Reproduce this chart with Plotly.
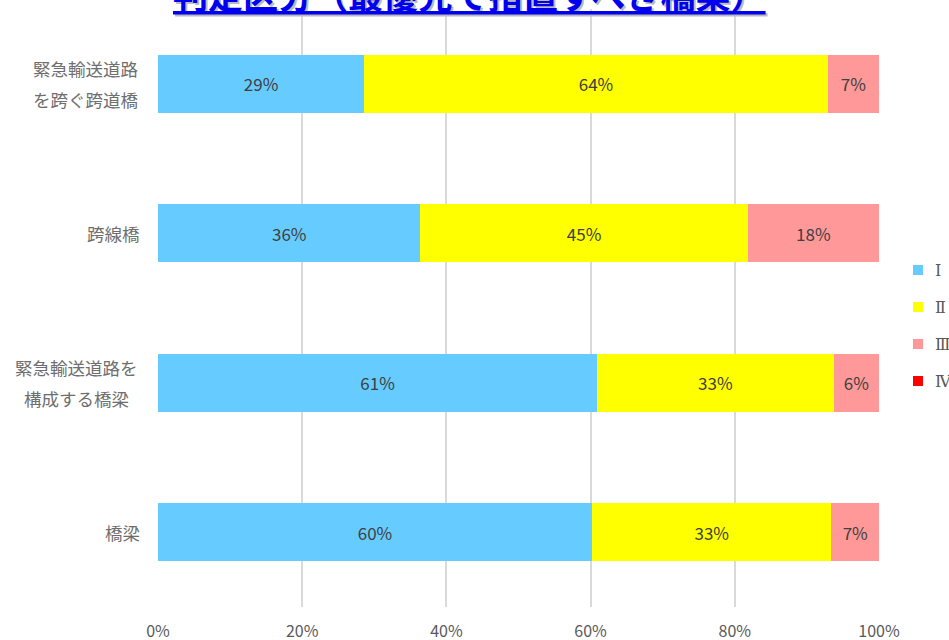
import plotly.graph_objects as go

categories = ["緊急輸送道路<br>を跨ぐ跨道橋", "跨線橋", "緊急輸送道路を<br>構成する橋梁", "橋梁"]
series_names = ["Ⅰ", "Ⅱ", "Ⅲ", "Ⅳ"]
vals_I = [28.6, 36.4, 60.9, 60.2]
vals_II = [64.3, 45.4, 32.8, 33.2]
vals_III = [7.1, 18.2, 6.3, 6.6]
vals_IV = [0, 0, 0, 0]
colors = ["#66ccff", "#ffff00", "#ff9999", "#ff0000"]
x_ticks = [0, 20, 40, 60, 80, 100]
x_tick_labels = ["0%", "20%", "40%", "60%", "80%", "100%"]
title_text = "判定区分（最優先で措置すべき橋梁）"

W, H = 949, 640
ML, MR, MT, MB = 158, 70, 9, 33
PW, PH = W - ML - MR, H - MT - MB

fig = go.Figure()
for i, (name, vals) in enumerate(zip(series_names, [vals_I, vals_II, vals_III, vals_IV])):
    fig.add_trace(go.Bar(
        y=categories, x=vals, name=name, orientation="h",
        marker=dict(color=colors[i], line=dict(width=0)),
        text=[f"{v:.0f}%" if v > 0 else "" for v in vals],
        textposition="inside", insidetextanchor="middle",
        textfont=dict(size=17, color="#404040", family="Noto Sans CJK JP"),
        hoverinfo="skip", showlegend=False,
    ))

fig.update_layout(
    barmode="stack", bargap=0.61,
    width=W, height=H,
    margin=dict(l=ML, r=MR, t=MT, b=MB, autoexpand=False),
    plot_bgcolor="white", paper_bgcolor="white",
    font=dict(family="Noto Sans CJK JP", color="#595959"),
    showlegend=False,
    xaxis=dict(range=[0, 100], tickvals=x_ticks, ticktext=x_tick_labels,
               showgrid=True, gridcolor="#d9d9d9", gridwidth=1.5,
               zeroline=False, showline=False, automargin=False,
               tickfont=dict(size=16, color="#595959"), ticklabelstandoff=13),
    yaxis=dict(categoryorder="array", categoryarray=categories[::-1],
               showticklabels=False, showgrid=False, zeroline=False, automargin=False),
)

# category labels (each line separately for wider line spacing; lines centred within block)
FS = 17.5
for c in categories:
    lines = c.split("<br>")
    n = len(lines)
    maxlen = max(len(l) for l in lines)
    centre_shift = -17 - maxlen * FS * 1.05 / 2
    for k, ln in enumerate(lines):
        fig.add_annotation(x=0, xref="paper", y=c, yref="y", text=ln, showarrow=False,
                           xanchor="center", yanchor="middle",
                           xshift=centre_shift, yshift=(n - 1) * 15.5 - k * 31,
                           font=dict(size=FS, color="#6e6e6e", family="Noto Sans CJK JP"))

# manual legend
leg_x0 = (913 - ML) / PW
for i, name in enumerate(series_names):
    py = 270 + i * 37
    yp = (H - MB - py) / PH
    fig.add_shape(type="rect", xref="paper", yref="paper",
                  x0=leg_x0, x1=leg_x0 + 10 / PW, y0=yp - 5 / PH, y1=yp + 5 / PH,
                  fillcolor=colors[i], line=dict(width=0))
    fig.add_annotation(x=leg_x0 + 20 / PW, xref="paper", y=yp, yref="paper", text=name,
                       showarrow=False, xanchor="left", yanchor="middle",
                       font=dict(size=16, color="#595959", family="DejaVu Serif"))

# title (partially cut off at top)
ty = (H - MB - 21) / PH
tx = (469 - ML) / PW
fig.add_annotation(x=tx, xref="paper", y=ty, yref="paper", text=f"<b><u>{title_text}</u></b>",
                   showarrow=False, xanchor="center", yanchor="bottom", xshift=2, yshift=-2,
                   font=dict(size=35, color="#bbbbbb", family="Noto Sans CJK JP"))
fig.add_annotation(x=tx, xref="paper", y=ty, yref="paper", text=f"<b><u>{title_text}</u></b>",
                   showarrow=False, xanchor="center", yanchor="bottom",
                   font=dict(size=35, color="#0000ee", family="Noto Sans CJK JP"))

fig.write_html("out.html", config={"displayModeBar": False},
               post_script="document.body.style.margin='0';")
